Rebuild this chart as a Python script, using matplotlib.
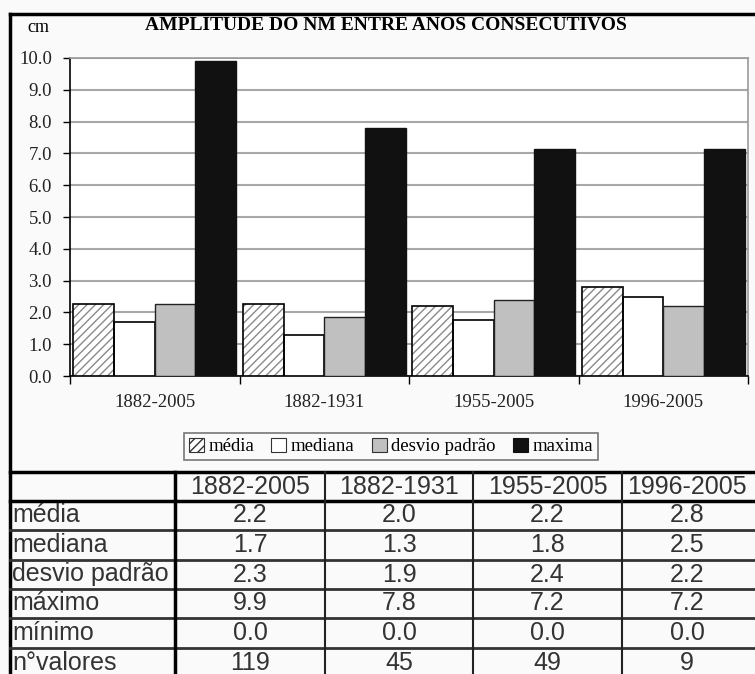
import numpy as np
import matplotlib.pyplot as plt
from matplotlib.lines import Line2D

W, H = 755, 674

periodos = ["1882-2005", "1882-1931", "1955-2005", "1996-2005"]
# bar heights as drawn in the chart
media = [2.25, 2.25, 2.2, 2.8]
mediana = [1.7, 1.3, 1.75, 2.5]
desvio = [2.25, 1.85, 2.4, 2.2]
maxima = [9.9, 7.8, 7.15, 7.15]

# table below the chart
linhas = ["média", "mediana", "desvio padrão", "máximo", "mínimo", "n°valores"]
tab_media = ["2.2", "2.0", "2.2", "2.8"]
tab_mediana = ["1.7", "1.3", "1.8", "2.5"]
tab_desvio = ["2.3", "1.9", "2.4", "2.2"]
tab_maximo = ["9.9", "7.8", "7.2", "7.2"]
tab_minimo = ["0.0", "0.0", "0.0", "0.0"]
tab_nvalores = ["119", "45", "49", "9"]
tabela = [tab_media, tab_mediana, tab_desvio, tab_maximo, tab_minimo, tab_nvalores]


def fx(x):
    return x / W


def fy(y):
    return 1 - y / H


serif = "Liberation Serif"
sans = "Liberation Sans"

fig = plt.figure(figsize=(W / 100, H / 100), dpi=100, facecolor="#fafafa")
ax = fig.add_axes([fx(70), fy(376), fx(748) - fx(70), fy(58) - fy(376)])
ax.set_facecolor("white")

x = np.arange(len(periodos))
w = 0.24
offs = [-1.5 * w, -0.5 * w, 0.5 * w, 1.5 * w]

# média: gray hatch, black outline drawn on top
ax.bar(x + offs[0], media, w, color="white", edgecolor="#8a8a8a", hatch="////", lw=0, zorder=3)
ax.bar(x + offs[0], media, w, fill=False, edgecolor="black", lw=1.2, zorder=4)
ax.bar(x + offs[1], mediana, w, color="white", edgecolor="black", lw=1.2, zorder=3)
ax.bar(x + offs[2], desvio, w, color="#c0c0c0", edgecolor="#222222", lw=1.0, zorder=3)
ax.bar(x + offs[3], maxima, w, color="#111111", edgecolor="#111111", lw=1.0, zorder=3)

ax.set_xlim(-0.5, 3.5)
ax.set_ylim(0, 10)
ax.set_yticks(np.arange(0, 10.1, 1))
ax.set_yticklabels(["%.1f" % v for v in np.arange(0, 10.1, 1)], fontfamily=serif,
                   fontsize=13.5, color="#222222")
ax.set_xticks(x)
ax.set_xticklabels(periodos, fontfamily=serif, fontsize=13.5, color="#222222")
ax.set_xticks(np.arange(-0.5, 4, 1), minor=True)
ax.tick_params(axis="x", which="major", length=0, pad=13)
ax.tick_params(axis="x", which="minor", length=6, width=1, color="black", direction="out")
ax.tick_params(axis="y", length=5, width=1, direction="out", pad=8)
ax.yaxis.grid(True, color="#a8a8a8", lw=1.5, zorder=0)
ax.set_axisbelow(True)
for s in ["top", "right"]:
    ax.spines[s].set_color("#999999")
    ax.spines[s].set_linewidth(1.2)
for s in ["left", "bottom"]:
    ax.spines[s].set_color("black")
    ax.spines[s].set_linewidth(1.2)

fig.text(fx(386), fy(25), "AMPLITUDE DO NM ENTRE ANOS CONSECUTIVOS", fontfamily=serif,
         fontweight="bold", fontsize=14, ha="center", va="center")
fig.text(fx(27), fy(27), "cm", fontfamily=serif, fontsize=13, ha="left", va="center")

handles = [
    plt.Rectangle((0, 0), 1, 1, facecolor="white", edgecolor="#333333", hatch="////", lw=0.8),
    plt.Rectangle((0, 0), 1, 1, facecolor="white", edgecolor="#333333", lw=0.8),
    plt.Rectangle((0, 0), 1, 1, facecolor="#c0c0c0", edgecolor="#333333", lw=0.8),
    plt.Rectangle((0, 0), 1, 1, facecolor="#111111", edgecolor="#111111", lw=0.8),
]
leg = fig.legend(handles, ["média", "mediana", "desvio padrão", "maxima"], ncol=4,
                 loc="center", bbox_to_anchor=(fx(391), fy(446.5)), frameon=True, fancybox=False,
                 edgecolor="#555555", facecolor="#fafafa", prop={"family": serif, "size": 13.5},
                 handlelength=0.8, handleheight=0.8, handletextpad=0.25, columnspacing=0.9,
                 borderpad=0.25, borderaxespad=0)
leg.get_frame().set_linewidth(1.2)

# outer frame (top and left)
fig.add_artist(Line2D([fx(10), fx(755)], [fy(14), fy(14)], color="black", lw=2.5))
fig.add_artist(Line2D([fx(10), fx(10)], [fy(14), fy(674)], color="black", lw=2.5))

# table grid
ylines = [472, 501, 530, 560, 589, 618, 648]
for i, yy in enumerate(ylines):
    if i < 2:
        fig.add_artist(Line2D([fx(10), fx(755)], [fy(yy), fy(yy)], color="black", lw=2.5))
    else:
        fig.add_artist(Line2D([fx(10), fx(755)], [fy(yy), fy(yy)], color="#333333", lw=2))
xcols = [175, 325, 473, 622, 770]
fig.add_artist(Line2D([fx(175), fx(175)], [fy(472), fy(674)], color="black", lw=2.5))
for xx in xcols[1:4]:
    fig.add_artist(Line2D([fx(xx), fx(xx)], [fy(472), fy(674)], color="#222222", lw=1.5))

rows_y = ylines + [677]
for j, p in enumerate(periodos):
    cx = (xcols[j] + xcols[j + 1]) / 2 if j < 3 else (622 + 752) / 2
    fig.text(fx(cx), fy((rows_y[0] + rows_y[1]) / 2), p, fontfamily=sans, fontsize=18,
             color="#333333", ha="center", va="center")
for i, nome in enumerate(linhas):
    yc = (rows_y[i + 1] + rows_y[i + 2]) / 2
    fig.text(fx(12), fy(yc), nome, fontfamily=sans, fontsize=18, color="#333333",
             ha="left", va="center")
    for j in range(4):
        cx = (xcols[j] + xcols[j + 1]) / 2 if j < 3 else (622 + 752) / 2
        fig.text(fx(cx), fy(yc), tabela[i][j], fontfamily=sans, fontsize=18,
                 color="#333333", ha="center", va="center")

fig.savefig("out.png", dpi=100, facecolor=fig.get_facecolor())
